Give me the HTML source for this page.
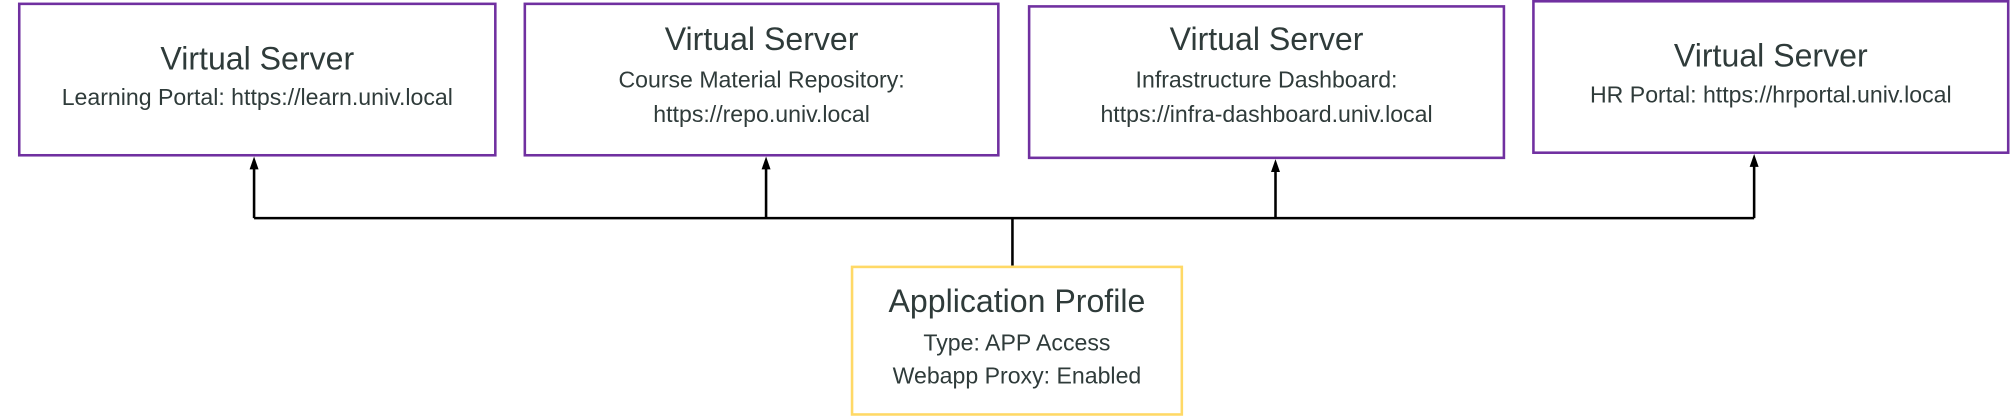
<!DOCTYPE html>
<html><head><style>
html,body{margin:0;padding:0;background:#fff;}
#wrap{width:2012px;height:417px;overflow:hidden;position:relative;}
#in{position:absolute;left:0;top:0;width:1568px;height:325px;transform:scale(1.2832);transform-origin:0 0;font-family:"Liberation Sans",sans-serif;color:#2f3b3a;}
.b{position:absolute;box-sizing:border-box;border:2px solid #7030A0;background:#fff;}
.t{position:absolute;left:0;right:0;text-align:center;white-space:nowrap;}
.h{font-size:25px;}
.s{font-size:18px;}
</style></head><body><div id="wrap"><div id="in">
<svg width="1568" height="325" style="position:absolute;left:0;top:0">
<g stroke="#000" stroke-width="2" fill="none">
<line x1="198" y1="170" x2="1367" y2="170"/>
<line x1="198" y1="170" x2="198" y2="130"/>
<line x1="597" y1="170" x2="597" y2="130"/>
<line x1="994" y1="170" x2="994" y2="132"/>
<line x1="1367" y1="170" x2="1367" y2="128"/>
<line x1="789" y1="170" x2="789" y2="207"/>
</g>
<g fill="#000">
<polygon points="198,122 194.5,132 201.5,132"/>
<polygon points="597,122 593.5,132 600.5,132"/>
<polygon points="994,124 990.5,134 997.5,134"/>
<polygon points="1367,120 1363.5,130 1370.5,130"/>
</g>
</svg>
<div class="b" style="left:14px;top:2px;width:373px;height:120px">
<div class="t h" style="top:28px">Virtual Server</div>
<div class="t s" style="top:62px">Learning Portal: https://learn.univ.local</div></div>
<div class="b" style="left:408px;top:2px;width:371px;height:120px">
<div class="t h" style="top:13px">Virtual Server</div>
<div class="t s" style="top:48px">Course Material Repository:</div>
<div class="t s" style="top:75px">https://repo.univ.local</div></div>
<div class="b" style="left:801px;top:4px;width:372px;height:120px">
<div class="t h" style="top:11px">Virtual Server</div>
<div class="t s" style="top:46px">Infrastructure Dashboard:</div>
<div class="t s" style="top:73px">https://infra-dashboard.univ.local</div></div>
<div class="b" style="left:1194px;top:0px;width:372px;height:120px">
<div class="t h" style="top:28px">Virtual Server</div>
<div class="t s" style="top:62px">HR Portal: https://hrportal.univ.local</div></div>
<div class="b" style="left:663px;top:207px;width:259px;height:117px;border-color:#FFD966">
<div class="t h" style="top:12px">Application Profile</div>
<div class="t s" style="top:48px">Type: APP Access</div>
<div class="t s" style="top:74px">Webapp Proxy: Enabled</div></div>
</div></div></body></html>
